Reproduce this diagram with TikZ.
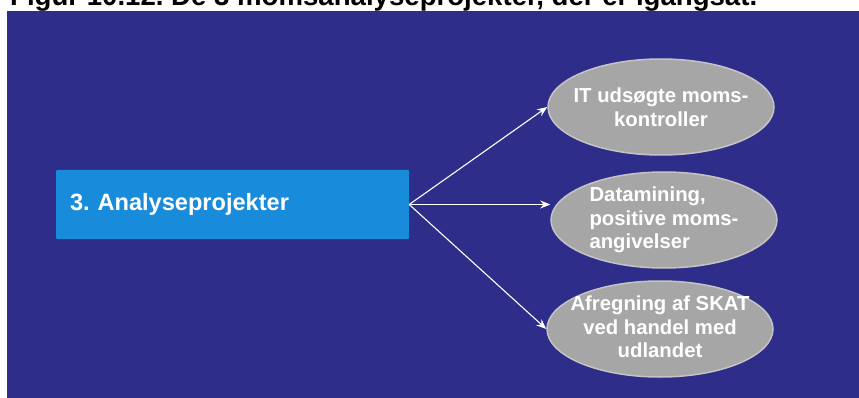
\documentclass[tikz,border=0pt]{standalone}
\usepackage{fontspec}
\setmainfont{Liberation Sans}
\usetikzlibrary{shapes.geometric,arrows.meta}
\definecolor{panelblue}{RGB}{46,45,137}
\definecolor{boxblue}{RGB}{24,139,219}
\definecolor{ovalgray}{RGB}{166,166,166}
\definecolor{ovalrim}{RGB}{196,196,196}
\frenchspacing
\tikzset{
  headbox/.style={rectangle, rounded corners=1pt, fill=boxblue, text=white,
    minimum width=353pt, minimum height=69pt, inner xsep=14pt,
    text width=325pt, align=left,
    font=\fontsize{23.6}{28}\selectfont\bfseries},
  oval/.style={ellipse, fill=ovalgray, draw=ovalrim, line width=1.5pt,
    minimum width=226pt, minimum height=96pt, inner sep=0pt},
  ovaltext/.style={inner sep=0pt, text=white,
    font=\fontsize{20.3}{23.5}\selectfont\bfseries},
  link/.style={draw=white, line width=1.1pt, -{Stealth[length=10pt,width=8pt]}},
}
\begin{document}
\begin{tikzpicture}[x=1pt,y=-1pt]
\useasboundingbox (0,0) rectangle (859,398);
\clip (0,0) rectangle (859,398);
% background panel
\fill[panelblue] (7,11) rectangle (859,398);
% caption, partly cut off by the top edge
\node[anchor=base west, inner sep=0pt, font=\fontsize{27.6}{32}\selectfont\bfseries]
  (caption) at (10,6) {Figur 10.12. De 3 momsanalyseprojekter, der er igangsat.};
% main box
\node[headbox] (main) at (232.5,204.5) {3. Analyseprojekter};
% project ovals
\node[oval] (p1) at (661,107) {};
\node[oval] (p2) at (664,220) {};
\node[oval] (p3) at (660,329) {};
\node[ovaltext, align=center] (t1) at (p1.center) {IT udsøgte moms-\\kontroller};
\node[ovaltext, align=left] (t2) at (p2.center) {Datamining,\\positive moms-\\angivelser};
\node[ovaltext, align=center] (t3) at ([yshift=2pt]p3.center) {Afregning af SKAT\\ved handel med\\udlandet};
% connectors
\draw[link] (main.east) -- (p1.west);
\draw[link] (main.east) -- (main.east -| p2.west);
\draw[link] (main.east) -- (p3.west);
\end{tikzpicture}
\end{document}
